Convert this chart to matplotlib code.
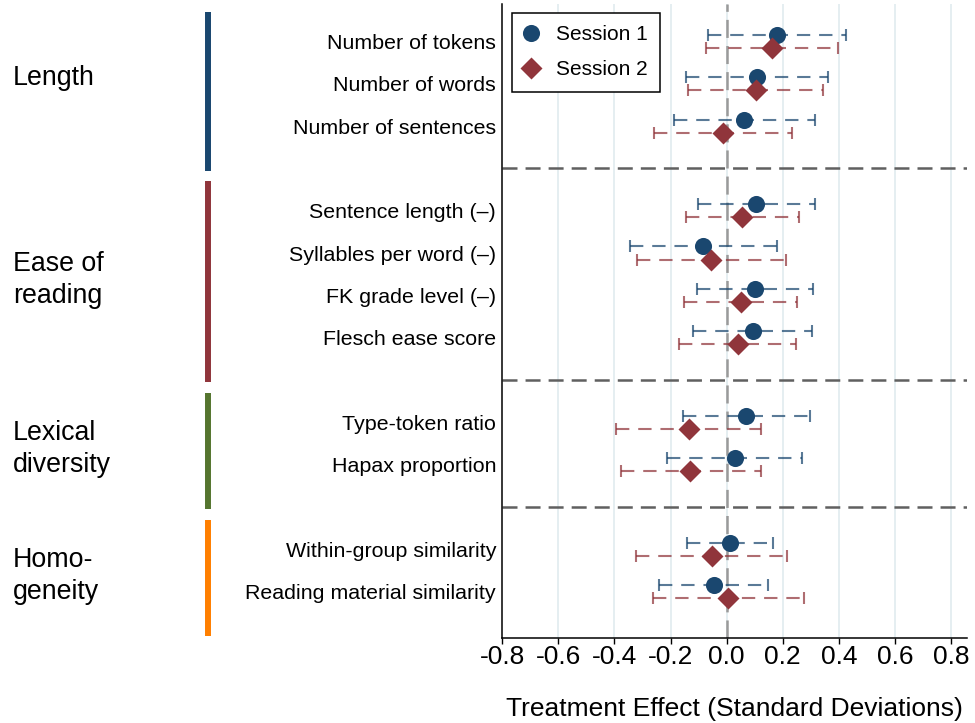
import matplotlib
matplotlib.use("Agg")
import matplotlib.pyplot as plt
from matplotlib.lines import Line2D
from matplotlib.transforms import blended_transform_factory
import numpy as np

plt.rcParams["font.family"] = ["Liberation Sans", "DejaVu Sans"]
plt.rcParams["lines.scale_dashes"] = False

# ---- data -------------------------------------------------------------
groups = ["Length", "Ease of\nreading", "Lexical\ndiversity", "Homo-\ngeneity"]
group_sizes = [3, 4, 2, 2]
measures = [
    "Number of tokens", "Number of words", "Number of sentences",
    "Sentence length (\u2013)", "Syllables per word (\u2013)",
    "FK grade level (\u2013)", "Flesch ease score",
    "Type-token ratio", "Hapax proportion",
    "Within-group similarity", "Reading material similarity",
]

s1_est = [0.178, 0.107, 0.063, 0.104, -0.084, 0.101, 0.093, 0.069, 0.030, 0.011, -0.044]
s1_lo = [-0.066, -0.145, -0.188, -0.102, -0.345, -0.107, -0.119, -0.156, -0.213, -0.142, -0.240]
s1_hi = [0.425, 0.360, 0.316, 0.315, 0.178, 0.309, 0.303, 0.296, 0.270, 0.165, 0.148]

s2_est = [0.160, 0.103, -0.012, 0.056, -0.055, 0.050, 0.039, -0.136, -0.130, -0.052, 0.005]
s2_lo = [-0.075, -0.137, -0.258, -0.146, -0.319, -0.152, -0.169, -0.394, -0.378, -0.322, -0.264]
s2_hi = [0.396, 0.345, 0.234, 0.258, 0.210, 0.252, 0.247, 0.121, 0.121, 0.215, 0.276]

xticks = [-0.8, -0.6, -0.4, -0.2, 0.0, 0.2, 0.4, 0.6, 0.8]
xticklabels = ["-0.8", "-0.6", "-0.4", "-0.2", "0.0", "0.2", "0.4", "0.6", "0.8"]

# ---- styling ----------------------------------------------------------
NAVY = "#1a476f"
MAROON = "#90353b"
group_colors = ["#1a476f", "#90353b", "#55752f", "#ff7f00"]

# ---- layout: one slot per measure, plus a separator slot between groups
ypos = []
separators = []
bounds = []
slot = 0
for gi, n in enumerate(group_sizes):
    start = slot
    for _ in range(n):
        slot += 1
        ypos.append(slot)
    slot += 1
    bounds.append((start, slot))
    if gi < len(group_sizes) - 1:
        separators.append(slot)
ypos = np.array(ypos, dtype=float)
offset = 0.155

fig = plt.figure(figsize=(9.75, 7.23), dpi=100)
ax = fig.add_axes([502.3 / 975, 1 - 638 / 723, (966.7 - 502.3) / 975, (638 - 4) / 723])
ax.set_xlim(-0.8, 0.856)
ax.set_ylim(15.10, 0.113)

# grid
for t in xticks[1:]:
    ax.axvline(t, color="#e0ebef", lw=1.2, zorder=0)
ax.axvline(0, color="#9a9a9a", lw=1.8, ls=(0, (13, 5.8)), zorder=1)
for s in separators:
    ax.axhline(s, color="#606060", lw=1.8, ls=(0, (10.8, 5.8)), zorder=1)


def draw_series(est, lo, hi, y, color, marker, ms, label):
    for e, l, h, yy in zip(est, lo, hi, y):
        ax.plot([l, h], [yy, yy], color=color, alpha=0.72, lw=1.5,
                ls=(0, (9.6, 6.4)), dash_capstyle="butt", zorder=2)
        ax.plot([l, h], [yy, yy], ls="none", marker="|", ms=8.2, mew=1.5,
                color=color, alpha=0.72, zorder=2)
    ax.plot(est, y, ls="none", marker=marker, ms=ms, color=color,
            mec="none", zorder=3, label=label)


draw_series(s1_est, s1_lo, s1_hi, ypos - offset, NAVY, "o", 12.3, "Session 1")
draw_series(s2_est, s2_lo, s2_hi, ypos + offset, MAROON, "D", 11.7, "Session 2")

# axes
ax.set_xticks(xticks)
ax.set_xticklabels(xticklabels, fontsize=19)
ax.set_yticks(ypos)
ax.set_yticklabels(measures, fontsize=15.4)
ax.tick_params(axis="y", length=0, pad=4.5)
ax.tick_params(axis="x", length=4.3, width=1.0, pad=1, colors="black")
for side in ("top", "right"):
    ax.spines[side].set_visible(False)
for side in ("left", "bottom"):
    ax.spines[side].set_linewidth(1.1)
ax.set_xlabel("Treatment Effect (Standard Deviations)", fontsize=19, labelpad=20)

leg = ax.legend(loc="upper left", bbox_to_anchor=(0.021, 0.986), borderaxespad=0,
                fontsize=15, frameon=True, fancybox=False, framealpha=1,
                edgecolor="black", borderpad=0.6, handlelength=0.6,
                handletextpad=0.9, labelspacing=0.75, numpoints=1)
leg.get_frame().set_linewidth(1.1)

# group bars and labels on the left, sharing the axes' vertical scale
trans = blended_transform_factory(fig.transFigure, ax.transData)
for gi, (g, (a, b)) in enumerate(zip(groups, bounds)):
    fig.add_artist(Line2D([208 / 975, 208 / 975], [a + 0.3, b + 0.05],
                          transform=trans, color=group_colors[gi], lw=4.3,
                          solid_capstyle="butt"))
    center = (a + b) / 2
    dy = -0.13 if "\n" not in g else 0.13
    fig.text(13 / 975, center + dy, g, transform=trans, fontsize=19.3,
             ha="left", va="center", linespacing=1.3)

fig.savefig("out.png", dpi=100)
